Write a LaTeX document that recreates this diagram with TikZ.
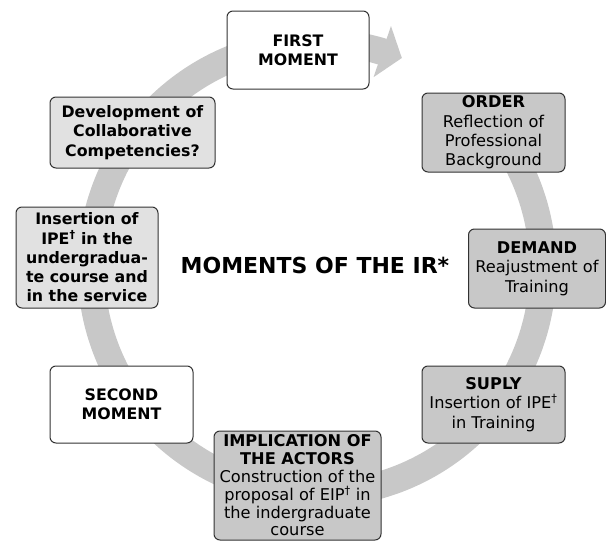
\documentclass[tikz,border=0pt]{standalone}
\usepackage{fontspec}
\setmainfont{DejaVu Sans}
\usetikzlibrary{calc}
\definecolor{band}{RGB}{200,200,200}
\definecolor{darkbox}{RGB}{200,200,200}
\definecolor{lightbox}{RGB}{225,225,225}
\definecolor{edge}{RGB}{50,50,50}
\begin{document}
\begin{tikzpicture}[x=1pt,y=-1pt,
  box/.style={draw=edge, line width=1pt, rounded corners=6pt, align=center,
    inner sep=1pt, font=\fontsize{15.8}{19.3}\selectfont},
  whitebox/.style={box, fill=white},
  graybox/.style={box, fill=darkbox, font=\fontsize{16.2}{19.3}\selectfont},
  lightgraybox/.style={box, fill=lightbox},
  title/.style={font=\fontsize{22}{26}\selectfont\bfseries}]
\useasboundingbox (0,0) rectangle (606,541);
\coordinate (c) at (317,268);
% circular band
\draw[band, line width=27pt] ($(c)+(-45:226)$) arc[start angle=-45, end angle=287, radius=226];
\coordinate (hb1) at ($(c)+(287:253)$);
\coordinate (hb2) at ($(c)+(286.5:199)$);
\coordinate (tip) at ($(c)+(292:226.5)$);
\fill[band] (hb1) -- (tip) -- (hb2) -- cycle;
% boxes
\node[whitebox, minimum width=142pt, minimum height=78pt] (first) at (298,50)
  {\textbf{FIRST}\\\textbf{MOMENT}};
\node[graybox, minimum width=143pt, minimum height=79pt] (order) at (493.5,132.5)
  {\textbf{ORDER}\\Reflection of\\Professional\\Background};
\node[graybox, minimum width=137pt, minimum height=79pt] (demand) at (537,268.5)
  {\textbf{DEMAND}\\Reajustment of\\Training};
\node[graybox, minimum width=143pt, minimum height=77pt] (suply) at (493.5,404.5)
  {\textbf{SUPLY}\\Insertion of IPE\textsuperscript{†}\\in Training};
\node[graybox, minimum width=167pt, minimum height=109pt, inner sep=0pt,
  font=\fontsize{16.2}{17.8}\selectfont] (impl) at (297.5,485.5)
  {\textbf{IMPLICATION OF}\\\textbf{THE ACTORS}\\Construction of the\\proposal of EIP\textsuperscript{†} in\\the indergraduate\\course};
\node[whitebox, minimum width=143pt, minimum height=77pt] (second) at (121.5,404.5)
  {\textbf{SECOND}\\\textbf{MOMENT}};
\node[lightgraybox, minimum width=142pt, minimum height=101pt] (insertion) at (87,257.5)
  {\textbf{Insertion of}\\\textbf{IPE\textsuperscript{†} in the}\\\textbf{undergradua-}\\\textbf{te course and}\\\textbf{in the service}};
\node[lightgraybox, minimum width=165pt, minimum height=71pt] (dev) at (132.5,132.5)
  {\textbf{Development of}\\\textbf{Collaborative}\\\textbf{Competencies?}};
\node[title] (ttl) at (315,265) {MOMENTS OF THE IR*};
\end{tikzpicture}
\end{document}
